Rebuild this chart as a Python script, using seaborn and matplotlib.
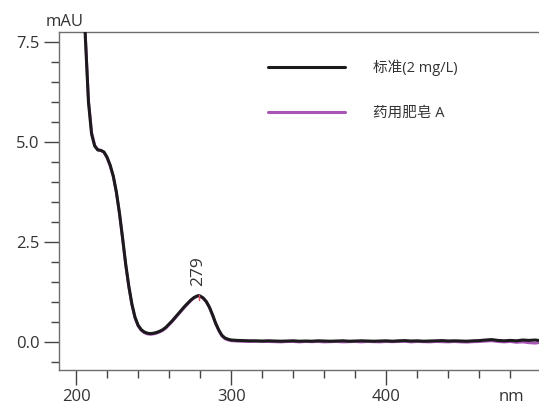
import matplotlib
matplotlib.use("Agg")
import matplotlib.pyplot as plt
from matplotlib.ticker import MultipleLocator, FormatStrFormatter
import seaborn as sns
import pandas as pd

sns.set_theme(style="white")
plt.rcParams['font.family'] = ['Open Sans', 'Noto Sans CJK SC', 'DejaVu Sans']

# Wavelength grid (nm)
wavelength = [200, 202, 204, 206, 208, 210, 212, 214, 216, 218,
              220, 222, 224, 226, 228, 230, 232, 234, 236, 238,
              240, 242, 244, 246, 248, 250, 252, 254, 256, 258,
              260, 262, 264, 266, 268, 270, 272, 274, 276, 278,
              279, 280, 282, 284, 286, 288, 290, 292, 294, 296,
              298, 300, 304, 308, 312, 316, 320, 324, 328, 332,
              336, 340, 344, 348, 352, 356, 360, 364, 368, 372,
              376, 380, 384, 388, 392, 396, 400, 404, 408, 412,
              416, 420, 424, 428, 432, 436, 440, 444, 448, 452,
              456, 460, 464, 468, 472, 476, 480, 484, 488, 492,
              496, 498]

# Absorbance of the standard solution (mAU)
standard = [16.0, 12.5, 9.6, 7.6, 6.0, 5.2, 4.9, 4.80, 4.79, 4.75,
            4.62, 4.42, 4.15, 3.75, 3.22, 2.60, 1.95, 1.40, 0.95, 0.62,
            0.42, 0.31, 0.25, 0.22, 0.21, 0.22, 0.24, 0.27, 0.31, 0.37,
            0.45, 0.53, 0.62, 0.71, 0.80, 0.89, 0.97, 1.05, 1.11, 1.15,
            1.16, 1.15, 1.10, 1.01, 0.87, 0.68, 0.47, 0.30, 0.17, 0.10,
            0.07, 0.05, 0.04, 0.035, 0.03, 0.03, 0.025, 0.03, 0.025, 0.02,
            0.025, 0.03, 0.02, 0.025, 0.02, 0.03, 0.025, 0.02, 0.025, 0.03,
            0.02, 0.025, 0.03, 0.025, 0.02, 0.025, 0.03, 0.02, 0.03, 0.035,
            0.025, 0.03, 0.02, 0.025, 0.03, 0.035, 0.025, 0.03, 0.025, 0.02,
            0.03, 0.035, 0.05, 0.06, 0.04, 0.03, 0.04, 0.03, 0.05, 0.04,
            0.05, 0.04]

# Absorbance of the medicinal soap sample (mAU)
soap = [16.1, 12.6, 9.7, 7.7, 6.05, 5.25, 4.92, 4.81, 4.79, 4.74,
        4.60, 4.40, 4.13, 3.73, 3.20, 2.58, 1.93, 1.38, 0.93, 0.60,
        0.40, 0.29, 0.23, 0.20, 0.19, 0.20, 0.22, 0.25, 0.29, 0.35,
        0.43, 0.51, 0.60, 0.69, 0.78, 0.87, 0.95, 1.03, 1.10, 1.14,
        1.15, 1.14, 1.09, 1.00, 0.86, 0.67, 0.46, 0.29, 0.15, 0.08,
        0.05, 0.03, 0.02, 0.015, 0.01, 0.015, 0.01, 0.01, 0.005, 0.0,
        0.01, 0.01, 0.0, 0.01, 0.005, 0.01, 0.0, 0.005, 0.01, 0.0,
        0.005, 0.01, 0.0, 0.01, 0.005, 0.0, 0.01, 0.005, 0.01, 0.015,
        0.0, 0.01, 0.005, 0.0, 0.01, 0.005, 0.0, 0.01, 0.0, -0.005,
        0.005, 0.01, 0.02, 0.03, 0.01, 0.0, 0.01, -0.01, 0.0, -0.02,
        -0.03, -0.02]

series_labels = ["标准(2 mg/L)", "药用肥皂 A"]
peak_nm = 279
peak_value = 1.16

df = pd.concat([
    pd.DataFrame({"nm": wavelength, "mAU": standard, "sample": series_labels[0]}),
    pd.DataFrame({"nm": wavelength, "mAU": soap, "sample": series_labels[1]}),
])

fig = plt.figure(figsize=(5.39, 4.05), dpi=100)
ax = fig.add_axes([59 / 539, 35 / 405, 480 / 539, 338 / 405])

palette = {series_labels[0]: "#1c1a1c", series_labels[1]: "#a855b5"}
# sample first so the standard trace sits on top
sns.lineplot(data=df[df["sample"] == series_labels[1]], x="nm", y="mAU",
             color=palette[series_labels[1]], lw=2.0, ax=ax,
             label=series_labels[1], zorder=2)
sns.lineplot(data=df[df["sample"] == series_labels[0]], x="nm", y="mAU",
             color=palette[series_labels[0]], lw=2.2, ax=ax,
             label=series_labels[0], zorder=3)

ax.set_xlim(189, 498.5)
ax.set_ylim(-0.7, 7.75)
ax.set_xlabel("")
ax.set_ylabel("")

ax.xaxis.set_major_locator(MultipleLocator(100))
ax.xaxis.set_minor_locator(MultipleLocator(20))
ax.yaxis.set_major_locator(MultipleLocator(2.5))
ax.yaxis.set_minor_locator(MultipleLocator(0.5))
ax.yaxis.set_major_formatter(FormatStrFormatter("%.1f"))

spine_color = "#6e6e6e"
for side in ["left", "bottom", "top"]:
    ax.spines[side].set_visible(True)
    ax.spines[side].set_color(spine_color)
    ax.spines[side].set_linewidth(1.0)
ax.spines["right"].set_visible(False)

ax.tick_params(axis="both", which="major", direction="out", length=11,
               width=1.0, color="#444444", labelsize=12, labelcolor="#333333",
               bottom=True, left=True, pad=3)
ax.tick_params(axis="both", which="minor", direction="out", length=6,
               width=1.0, color="#444444", bottom=True, left=True)

# Axis unit labels
ax.text(0.0125, 1.005, "mAU", transform=ax.transAxes, ha="center", va="bottom",
        fontsize=12, color="#333333")
fig.text(511 / 539, 1 - 397 / 405, "nm", ha="center", va="center",
         fontsize=12, color="#333333")

# Peak marker and label
ax.plot([peak_nm, peak_nm], [peak_value - 0.12, peak_value + 0.02],
        color="#e05060", lw=1.0, zorder=4)
ax.text(peak_nm, peak_value + 0.25, str(peak_nm), rotation=90, ha="center",
        va="bottom", fontsize=12.5, color="#333333")

# Legend with long handles, order as shown
handles, labels = ax.get_legend_handles_labels()
order = [labels.index(series_labels[0]), labels.index(series_labels[1])]
leg = ax.legend([handles[i] for i in order], [labels[i] for i in order],
                loc="upper left", bbox_to_anchor=(0.408, 0.958), frameon=False,
                handlelength=5.3, handletextpad=1.9, labelspacing=2.08,
                fontsize=10.5)
for line in leg.get_lines():
    line.set_linewidth(2.2)
for t in leg.get_texts():
    t.set_color("#333333")

fig.savefig("out.png", dpi=100)
